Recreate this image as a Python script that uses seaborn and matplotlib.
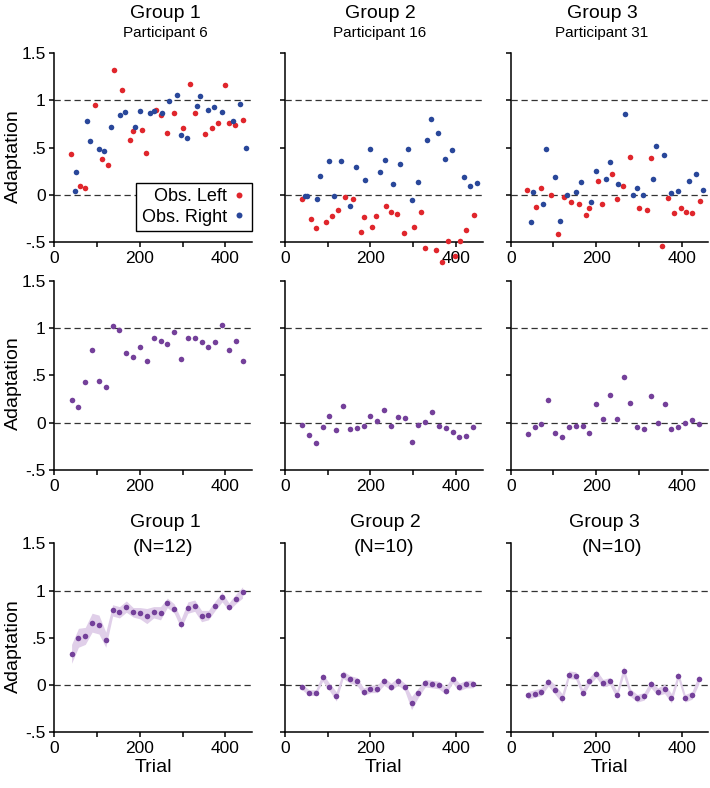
import matplotlib
matplotlib.use("Agg")
import matplotlib.pyplot as plt
import seaborn as sns
import pandas as pd
import numpy as np
from matplotlib.lines import Line2D

# ---------------- data ----------------
red_trials = [39, 60, 72, 95, 111, 124, 140, 159, 177, 184, 204, 213, 237, 248,
              262, 279, 301, 318, 328, 353, 368, 382, 398, 409, 423, 442]
blue_trials = [47, 51, 76, 82, 103, 115, 132, 153, 165, 188, 199, 223, 233, 252,
               268, 287, 296, 310, 333, 341, 359, 374, 391, 418, 433, 449]
bin_trials = [40, 56, 72, 88, 104, 120, 136, 152, 168, 184, 200, 216, 232, 248,
              264, 280, 296, 312, 328, 344, 360, 376, 392, 408, 424, 440]

# Row 1: individual participants, observer left / right
p6_left = [0.43, 0.09, 0.07, 0.95, 0.38, 0.31, 1.32, 1.11, 0.58, 0.67, 0.69, 0.44, 0.90,
           0.84, 0.65, 0.86, 0.71, 1.17, 0.86, 0.64, 0.71, 0.76, 1.16, 0.76, 0.74, 0.79]
p6_right = [0.04, 0.24, 0.78, 0.57, 0.48, 0.46, 0.72, 0.84, 0.88, 0.72, 0.89, 0.86, 0.89,
            0.87, 0.99, 1.06, 0.63, 0.60, 0.94, 1.04, 0.90, 0.93, 0.88, 0.78, 0.96, 0.50]
p16_left = [-0.04, -0.26, -0.35, -0.29, -0.22, -0.16, -0.02, -0.05, -0.39, -0.24, -0.34, -0.22, -0.12,
            -0.18, -0.20, -0.40, -0.34, -0.18, -0.56, -0.58, -0.71, -0.49, -0.65, -0.49, -0.37, -0.21]
p16_right = [-0.01, -0.01, -0.05, 0.20, 0.36, -0.01, 0.36, -0.12, 0.29, 0.16, 0.48, 0.24, 0.37,
             0.11, 0.33, 0.48, -0.06, 0.14, 0.58, 0.80, 0.65, 0.38, 0.47, 0.19, 0.09, 0.12]
p31_left = [0.05, -0.13, 0.07, 0.00, -0.42, -0.02, -0.08, -0.10, -0.21, -0.14, 0.15, -0.10, 0.22,
            -0.05, 0.09, 0.40, -0.14, -0.16, 0.39, -0.54, -0.03, -0.19, -0.14, -0.18, -0.19, -0.07]
p31_right = [-0.29, 0.03, -0.10, 0.48, 0.19, -0.28, 0.00, 0.03, 0.14, -0.08, 0.25, 0.17, 0.35,
             0.11, 0.85, 0.00, 0.07, 0.00, 0.17, 0.52, 0.42, 0.02, 0.04, 0.15, 0.22, 0.05]

# Row 2: individual participants, combined
p6_comb = [0.24, 0.17, 0.43, 0.77, 0.44, 0.38, 1.02, 0.98, 0.74, 0.70, 0.80, 0.65, 0.90,
           0.86, 0.83, 0.96, 0.67, 0.90, 0.90, 0.85, 0.80, 0.85, 1.03, 0.77, 0.86, 0.65]
p16_comb = [-0.02, -0.13, -0.21, -0.04, 0.07, -0.08, 0.18, -0.07, -0.06, -0.03, 0.07, 0.02, 0.13,
            -0.03, 0.06, 0.05, -0.20, -0.02, 0.01, 0.11, -0.03, -0.06, -0.10, -0.15, -0.14, -0.05]
p31_comb = [-0.12, -0.04, -0.01, 0.24, -0.11, -0.15, -0.04, -0.03, -0.03, -0.11, 0.20, 0.04, 0.29,
            0.04, 0.48, 0.21, -0.04, -0.07, 0.28, 0.00, 0.20, -0.07, -0.04, 0.00, 0.03, -0.01]

# Row 3: group means and SEM
g1_mean = [0.33, 0.50, 0.52, 0.66, 0.64, 0.48, 0.79, 0.77, 0.83, 0.77, 0.76, 0.73, 0.77,
           0.76, 0.87, 0.81, 0.65, 0.82, 0.84, 0.73, 0.74, 0.84, 0.93, 0.83, 0.91, 0.98]
g1_sem = [0.10, 0.10, 0.09, 0.10, 0.10, 0.08, 0.06, 0.06, 0.06, 0.05, 0.06, 0.08, 0.06,
          0.07, 0.05, 0.05, 0.05, 0.06, 0.06, 0.06, 0.05, 0.05, 0.05, 0.04, 0.05, 0.06]
g2_mean = [-0.02, -0.08, -0.08, 0.08, -0.02, -0.12, 0.11, 0.06, 0.04, -0.07, -0.04, -0.04, 0.04,
           -0.02, 0.04, -0.02, -0.19, -0.08, 0.02, 0.01, 0.00, -0.06, 0.06, -0.02, 0.01, 0.01]
g2_sem = [0.03, 0.03, 0.03, 0.04, 0.04, 0.05, 0.04, 0.04, 0.04, 0.04, 0.04, 0.04, 0.04,
          0.04, 0.04, 0.04, 0.07, 0.05, 0.04, 0.04, 0.04, 0.04, 0.04, 0.04, 0.04, 0.04]
g3_mean = [-0.11, -0.09, -0.07, 0.03, -0.05, -0.14, 0.11, 0.10, -0.08, 0.04, 0.12, 0.02, 0.04,
           -0.10, 0.15, -0.08, -0.14, -0.12, 0.01, -0.07, -0.04, -0.14, 0.10, -0.14, -0.11, 0.06]
g3_sem = [0.04, 0.04, 0.04, 0.04, 0.05, 0.05, 0.04, 0.04, 0.04, 0.04, 0.04, 0.04, 0.04,
          0.04, 0.05, 0.04, 0.04, 0.04, 0.04, 0.04, 0.05, 0.05, 0.04, 0.04, 0.04, 0.05]

top_titles = ["Group 1", "Group 2", "Group 3"]
top_subtitles = ["Participant 6", "Participant 16", "Participant 31"]
bottom_subtitles = ["(N=12)", "(N=10)", "(N=10)"]
ytick_vals = [-0.5, 0, 0.5, 1, 1.5]
ytick_labels = ["-.5", "0", ".5", "1", "1.5"]
xtick_vals = [0, 100, 200, 300, 400]
xtick_labels = ["0", "", "200", "", "400"]

RED = "#e0262c"
BLUE = "#29479a"
PURPLE = "#74409a"
BAND = "#e0cfe9"

# ---------------- style ----------------
sns.set_style("ticks")
plt.rcParams["font.family"] = ["Liberation Sans", "DejaVu Sans"]
plt.rcParams["axes.linewidth"] = 1.1
plt.rcParams["xtick.major.width"] = 1.1
plt.rcParams["ytick.major.width"] = 1.1
plt.rcParams["xtick.major.size"] = 3.3
plt.rcParams["ytick.major.size"] = 3.3
plt.rcParams["xtick.color"] = "black"
plt.rcParams["ytick.color"] = "black"
plt.rcParams["xtick.labelcolor"] = "black"
plt.rcParams["ytick.labelcolor"] = "black"
plt.rcParams["text.color"] = "black"
plt.rcParams["axes.labelcolor"] = "black"
plt.rcParams["axes.edgecolor"] = "black"

W, H = 710, 788
fig = plt.figure(figsize=(W / 100, H / 100), dpi=100)

col_left = [54.5, 285.0, 510.7]
ax_w = 197.5
row_top = [53.0, 281.0, 543.3]
ax_h = 189.0
XMAX = 462

def make_ax(r, c):
    ax = fig.add_axes([col_left[c] / W, 1 - (row_top[r] + ax_h) / H, ax_w / W, ax_h / H])
    ax.set_xlim(0, XMAX)
    ax.set_ylim(-0.5, 1.5)
    sns.despine(ax=ax)
    ax.axhline(0, color="#333333", lw=0.9, ls=(0, (5, 3)), zorder=1)
    ax.axhline(1, color="#333333", lw=0.9, ls=(0, (5, 3)), zorder=1)
    ax.set_xticks(xtick_vals)
    ax.set_xticklabels(xtick_labels)
    ax.set_yticks(ytick_vals)
    if c == 0:
        ax.set_yticklabels(ytick_labels)
    else:
        ax.set_yticklabels([])
    ax.tick_params(labelsize=12.5, pad=3, colors="black")
    ax.set_xlabel("")
    ax.set_ylabel("")
    return ax

MS = 16

# Row 1
row1 = [(p6_left, p6_right), (p16_left, p16_right), (p31_left, p31_right)]
for c, (lv, rv) in enumerate(row1):
    ax = make_ax(0, c)
    df_l = pd.DataFrame({"trial": red_trials, "adapt": lv})
    df_r = pd.DataFrame({"trial": blue_trials, "adapt": rv})
    sns.scatterplot(data=df_l, x="trial", y="adapt", ax=ax, color=RED, s=MS,
                    linewidth=0, clip_on=False, zorder=3)
    sns.scatterplot(data=df_r, x="trial", y="adapt", ax=ax, color=BLUE, s=MS,
                    linewidth=0, clip_on=False, zorder=3)
    ax.set_xlabel("")
    ax.set_ylabel("")
    if c == 0:
        handles = [Line2D([], [], ls="none", marker="o", ms=4.3, mfc=RED, mec="none"),
                   Line2D([], [], ls="none", marker="o", ms=4.3, mfc=BLUE, mec="none")]
        leg = ax.legend(handles, ["Obs. Left", "Obs. Right"], loc="lower right",
                        bbox_to_anchor=(1.0, 0.058), borderaxespad=0, markerfirst=False,
                        fontsize=13, frameon=True, fancybox=False, framealpha=1,
                        edgecolor="black", handlelength=0.8, handletextpad=0.3,
                        borderpad=0.3, labelspacing=0.2)
        leg.get_frame().set_linewidth(1.0)
        leg.set_zorder(5)

# Row 2
row2 = [p6_comb, p16_comb, p31_comb]
for c, v in enumerate(row2):
    ax = make_ax(1, c)
    df = pd.DataFrame({"trial": bin_trials, "adapt": v})
    sns.scatterplot(data=df, x="trial", y="adapt", ax=ax, color=PURPLE, s=MS,
                    linewidth=0, clip_on=False, zorder=3)
    ax.set_xlabel("")
    ax.set_ylabel("")

# Row 3
row3 = [(g1_mean, g1_sem), (g2_mean, g2_sem), (g3_mean, g3_sem)]
for c, (m, se) in enumerate(row3):
    ax = make_ax(2, c)
    m_a = np.array(m)
    se_a = np.array(se)
    ax.fill_between(bin_trials, m_a - se_a, m_a + se_a, color=BAND, lw=0, zorder=2)
    df = pd.DataFrame({"trial": bin_trials, "adapt": m})
    sns.scatterplot(data=df, x="trial", y="adapt", ax=ax, color=PURPLE, s=MS,
                    linewidth=0, clip_on=False, zorder=3)
    ax.set_ylabel("")
    ax.set_xlabel("Trial", fontsize=14, labelpad=2, color="black")

# Titles
top_cx = [165, 380, 602]
for c in range(3):
    fig.text(top_cx[c] / W, 1 - 18.5 / H, top_titles[c], ha="center", va="baseline", fontsize=14)
    fig.text(top_cx[c] / W, 1 - 37.5 / H, top_subtitles[c], ha="center", va="baseline", fontsize=11)

bot_cx1 = [165, 385, 604]
bot_cx2 = [163, 384, 612]
for c in range(3):
    fig.text(bot_cx1[c] / W, 1 - 527 / H, top_titles[c], ha="center", va="baseline", fontsize=14)
    fig.text(bot_cx2[c] / W, 1 - 552 / H, bottom_subtitles[c], ha="center", va="baseline", fontsize=14)

# Y labels
for r, cy in enumerate([156, 383, 646]):
    fig.text(13 / W, 1 - cy / H, "Adaptation", rotation=90, ha="center", va="center", fontsize=14)

fig.savefig("out.png", dpi=100)
